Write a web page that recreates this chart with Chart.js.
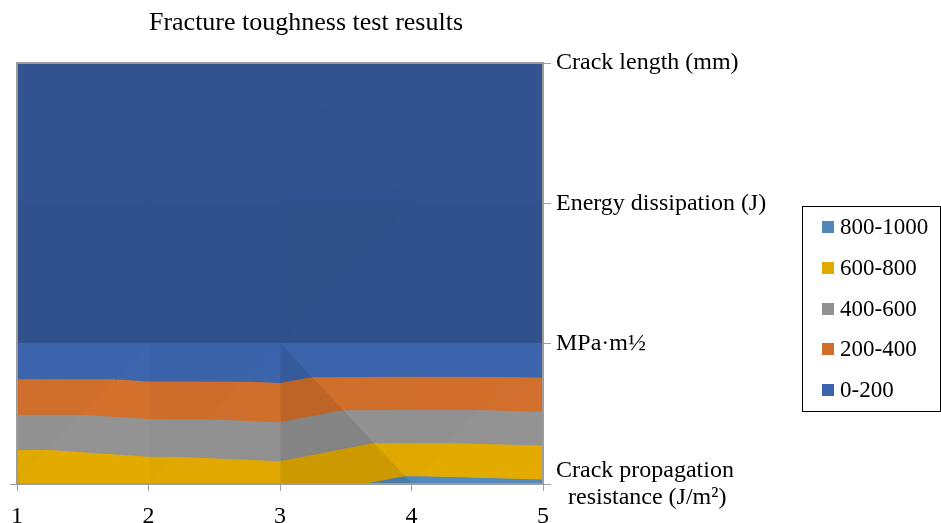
<!DOCTYPE html>
<html>
<head>
<meta charset="utf-8">
<script src="https://cdn.jsdelivr.net/npm/chart.js@4.4.1/dist/chart.umd.min.js"></script>
<style>
  html, body { margin: 0; padding: 0; background: #ffffff; }
</style>
</head>
<body>
<canvas id="chart" width="941" height="523"></canvas>
<script>
// Specimen index along the horizontal axis
const columns = [1, 2, 3, 4, 5];

// Measured quantities, one row of the surface each (bottom to top)
const rowLabels = [
  ["Crack propagation", "  resistance (J/m²)"],
  "MPa·m½",
  "Energy dissipation (J)",
  "Crack length (mm)"
];
const crackResistance   = [795, 748, 720, 850, 830];
const fractureToughness = [1.5, 2.3, 1.1, 3.7, 2.3];
const energyDissipation = [48, 52, 46, 58, 54];
const crackLength       = [2.1, 2.4, 2.2, 2.8, 2.5];

// Contour bands
const bandLabels = ["0-200", "200-400", "400-600", "600-800", "800-1000"];
const bandEdges  = [0, 200, 400, 600, 800, 1000];
const bandColors = ["#4472C4", "#ED7D31", "#A5A5A5", "#FFC000", "#5B9BD5"];

const surfaceRows = [crackResistance, fractureToughness, energyDissipation, crackLength];
const serif = '"Liberation Serif", "Times New Roman", serif';

function shadeColor(hex, f) {
  const n = parseInt(hex.slice(1), 16);
  const r = Math.round(((n >> 16) & 255) * f);
  const g = Math.round(((n >> 8) & 255) * f);
  const b = Math.round((n & 255) * f);
  return `rgb(${r},${g},${b})`;
}

// Split every grid cell into two triangles (diagonal joins the larger pair)
function node(c, r) { return [columns[c], r, surfaceRows[r][c]]; }
const triangles = [];
for (let r = 0; r < surfaceRows.length - 1; r++) {
  for (let c = 0; c < columns.length - 1; c++) {
    const A = node(c, r), B = node(c + 1, r), C = node(c, r + 1), D = node(c + 1, r + 1);
    if (A[2] + D[2] >= B[2] + C[2]) triangles.push([A, B, D], [A, C, D]);
    else triangles.push([A, B, C], [C, B, D]);
  }
}

// Lighting of a flat facet from its slope
function facetShade(t) {
  const [p0, p1, p2] = t;
  const dx1 = p1[0] - p0[0], dy1 = p1[1] - p0[1], dv1 = p1[2] - p0[2];
  const dx2 = p2[0] - p0[0], dy2 = p2[1] - p0[1], dv2 = p2[2] - p0[2];
  const det = dx1 * dy2 - dx2 * dy1;
  const gx = (dv1 * dy2 - dv2 * dy1) / det;
  const gy = (dx1 * dv2 - dx2 * dv1) / det;
  const tilt = Math.max(-1, Math.min(1, -gy / 800));
  const f = 0.72 + 0.16 * tilt - 0.39 * gx / 800;
  return Math.max(0.6, Math.min(0.95, f));
}

// Keep the part of a polygon where fn(point) >= 0 (value is linear along edges)
function clipPoly(poly, fn) {
  const out = [];
  for (let i = 0; i < poly.length; i++) {
    const a = poly[i], b = poly[(i + 1) % poly.length];
    const fa = fn(a), fb = fn(b);
    if (fa >= 0) out.push(a);
    if ((fa >= 0) !== (fb >= 0)) {
      const t = fa / (fa - fb);
      out.push([a[0] + t * (b[0] - a[0]), a[1] + t * (b[1] - a[1]), a[2] + t * (b[2] - a[2])]);
    }
  }
  return out;
}

// Vertical extent of a convex polygon at x
function slice(poly, x) {
  let lo = Infinity, hi = -Infinity;
  for (let i = 0; i < poly.length; i++) {
    const p = poly[i], q = poly[(i + 1) % poly.length];
    const x0 = Math.min(p[0], q[0]), x1 = Math.max(p[0], q[0]);
    if (x < x0 - 1e-9 || x > x1 + 1e-9) continue;
    if (Math.abs(q[0] - p[0]) < 1e-9) {
      lo = Math.min(lo, p[1], q[1]); hi = Math.max(hi, p[1], q[1]);
    } else {
      const t = (x - p[0]) / (q[0] - p[0]);
      const y = p[1] + t * (q[1] - p[1]);
      lo = Math.min(lo, y); hi = Math.max(hi, y);
    }
  }
  return [lo, hi];
}

// Stretch a chain a hair past both ends so neighbouring pieces overlap
function extendChain(pts, eps) {
  if (pts.length < 2) return pts;
  const a = pts[0], b = pts[1];
  const y = pts[pts.length - 1], z = pts[pts.length - 2];
  const s0 = (b.y - a.y) / (b.x - a.x);
  const s1 = (y.y - z.y) / (y.x - z.x);
  return [{ x: a.x - eps, y: a.y - s0 * eps }, ...pts, { x: y.x + eps, y: y.y + s1 * eps }];
}

// Each band piece becomes a lower/upper line pair filled between them
const datasets = [];
triangles.forEach(tri => {
  const f = facetShade(tri);
  for (let b = 0; b < bandLabels.length; b++) {
    const lo = bandEdges[b], hi = bandEdges[b + 1];
    let poly = clipPoly(tri, p => p[2] - lo);
    if (poly.length >= 3) poly = clipPoly(poly, p => hi - p[2]);
    if (poly.length < 3) continue;
    const xs = [...new Set(poly.map(p => +p[0].toFixed(9)))].sort((a, b) => a - b);
    if (xs.length < 2 || xs[xs.length - 1] - xs[0] < 1e-6) continue;
    let lower = [], upper = [];
    xs.forEach(x => {
      const [y0, y1] = slice(poly, x);
      lower.push({ x, y: y0 });
      upper.push({ x, y: y1 });
    });
    lower = extendChain(lower, 0.005);
    upper = extendChain(upper, 0.005);
    const col = shadeColor(bandColors[b], f);
    const common = {
      showLine: true, pointRadius: 0, borderColor: col, backgroundColor: col,
      borderWidth: 1.2, tension: 0, clip: false
    };
    datasets.push(Object.assign({ data: lower, fill: false }, common));
    datasets.push(Object.assign({ data: upper, fill: '-1' }, common));
  }
});

// Title, plot frame and band legend
const chartTitle = "Fracture toughness test results";
const titlePlugin = {
  id: 'chartTitle',
  afterDraw(chart) {
    const ctx = chart.ctx;
    ctx.save();
    ctx.font = '26px ' + serif;
    ctx.fillStyle = '#000';
    ctx.textAlign = 'center';
    ctx.textBaseline = 'middle';
    ctx.fillText(chartTitle, 306, 23);
    ctx.restore();
  }
};
const framePlugin = {
  id: 'plotFrame',
  afterDatasetsDraw(chart) {
    const { ctx, chartArea: a } = chart;
    ctx.save();
    ctx.strokeStyle = '#9c9c9c';
    ctx.lineWidth = 2;
    ctx.strokeRect(a.left, a.top, a.right - a.left, a.bottom - a.top);
    ctx.lineWidth = 1;
    ctx.beginPath();
    ctx.moveTo(a.left - 7, a.bottom + 0.5);
    ctx.lineTo(a.left, a.bottom + 0.5);
    ctx.stroke();
    ctx.restore();
  }
};
const bandLegendPlugin = {
  id: 'bandLegend',
  afterDraw(chart) {
    const ctx = chart.ctx;
    const box = { left: 802.5, top: 206.5, right: 940.5, bottom: 411.5 };
    ctx.save();
    ctx.strokeStyle = '#000';
    ctx.lineWidth = 1;
    ctx.strokeRect(box.left, box.top, box.right - box.left, box.bottom - box.top);
    ctx.font = '23px ' + serif;
    ctx.textAlign = 'left';
    ctx.textBaseline = 'middle';
    for (let i = bandLabels.length - 1, k = 0; i >= 0; i--, k++) {
      const cy = 227 + k * 40.75;
      ctx.fillStyle = shadeColor(bandColors[i], 0.88);
      ctx.fillRect(822, Math.round(cy - 6), 12, 12);
      ctx.fillStyle = '#000';
      ctx.fillText(bandLabels[i], 840, cy + 1);
    }
    ctx.restore();
  }
};

const axisFont = { family: serif, size: 24 };

new Chart(document.getElementById('chart'), {
  type: 'scatter',
  data: { datasets },
  options: {
    responsive: false,
    devicePixelRatio: 1,
    animation: false,
    events: [],
    layout: { padding: { left: 15, top: 63, right: 0, bottom: 0 } },
    plugins: { legend: { display: false }, tooltip: { enabled: false }, title: { display: false } },
    scales: {
      x: {
        type: 'linear', position: 'bottom', min: columns[0], max: columns[columns.length - 1],
        afterFit(s) { s.height = 39; },
        ticks: { stepSize: 1, color: '#000', font: axisFont, padding: 11,
                 callback: v => (columns.includes(v) ? String(v) : '') },
        grid: { drawOnChartArea: false, drawTicks: true, tickLength: 7, color: '#a0a0a0' },
        border: { display: true, color: '#a0a0a0' }
      },
      y: {
        type: 'linear', position: 'right', min: 0, max: rowLabels.length - 1,
        afterFit(s) { s.width = 398; },
        ticks: { stepSize: 1, color: '#000', font: Object.assign({ lineHeight: 1.13 }, axisFont), padding: 5,
                 autoSkip: false, callback: v => rowLabels[v] },
        grid: { drawOnChartArea: false, drawTicks: true, tickLength: 8, color: '#a0a0a0' },
        border: { display: true, color: '#a0a0a0' }
      }
    }
  },
  plugins: [titlePlugin, framePlugin, bandLegendPlugin]
});
</script>
</body>
</html>
